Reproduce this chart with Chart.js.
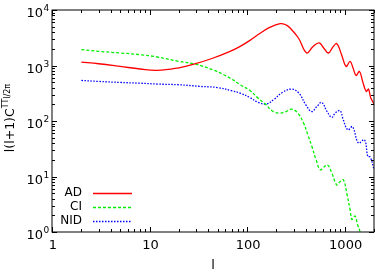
<!DOCTYPE html>
<html>
<head>
<meta charset="utf-8">
<script src="https://cdn.jsdelivr.net/npm/chart.js@4.4.1/dist/chart.umd.min.js"></script>
<style>
  html, body { margin: 0; padding: 0; background: #fff; }
  canvas { display: block; }
</style>
</head>
<body>
<canvas id="chart" width="375" height="278"></canvas>
<script>
// multipole values and spectra
const adEll = [2, 3, 5, 8, 12, 20, 29, 45, 67, 85, 107, 136, 170, 218, 250, 276, 336, 409, 470, 547, 610, 682, 760, 831, 930, 1036, 1138, 1220, 1312, 1419, 1530, 1663, 1757, 1850, 2000];
const adVal = [1150, 1075, 963, 865, 815, 910, 1065, 1365, 1800, 2213, 2840, 3800, 4850, 5680, 5400, 4750, 3130, 1680, 2160, 2550, 2070, 1680, 2160, 2475, 1567, 964, 1186, 900, 662, 783, 516, 341, 376, 263, 204];

const ciEll = [2, 3, 5, 8, 12, 20, 29, 45, 67, 85, 107, 130, 153, 185, 218, 250, 287, 330, 379, 420, 461, 510, 561, 610, 667, 740, 831, 900, 972, 1060, 1138, 1185, 1240, 1282, 1360, 1442, 1500];
const ciVal = [1930, 1800, 1680, 1567, 1422, 1186, 1065, 830, 594, 450, 355, 258, 204, 148, 139, 148, 164, 139, 92, 56, 35, 20, 13.2, 14.7, 16.2, 11.5, 7.05, 8.1, 8.7, 4.66, 2.5, 1.69, 1.85, 1.94, 1.34, 1.0, 0.75];

const nidEll = [2, 3, 5, 8, 12, 20, 33, 50, 70, 85, 107, 130, 159, 190, 230, 287, 340, 400, 461, 520, 583, 660, 739, 800, 899, 960, 1079, 1202, 1387, 1597, 1730, 1827, 2000];
const nidVal = [538, 517, 495, 480, 463, 450, 420, 400, 350, 317, 265, 216, 204, 248, 327, 376, 317, 196, 148, 183, 216, 148, 116, 139, 153, 110, 69, 79, 40, 46, 22.9, 22.5, 13.5];

const xTicks = [1, 10, 100, 1000];
const yTicks = [1, 10, 100, 1000, 10000];
const yTickExp = ['0', '1', '2', '3', '4'];

const FONT = '"DejaVu Sans", sans-serif';

function pts(ell, val) {
  return ell.map((l, i) => ({ x: l, y: val[i] }));
}

function tline(ctx, x1, y1, x2, y2) {
  ctx.beginPath();
  ctx.moveTo(x1, y1);
  ctx.lineTo(x2, y2);
  ctx.stroke();
}

// frame, inward ticks, labels and key drawn gnuplot-style
const gnuplotLook = {
  id: 'gnuplotLook',
  afterDraw(chart) {
    const { ctx, chartArea: a, scales: { x, y } } = chart;
    ctx.save();
    ctx.strokeStyle = '#000';
    ctx.lineWidth = 1;
    ctx.strokeRect(a.left, a.top, a.right - a.left, a.bottom - a.top);

    // x ticks (major + minor), bottom and top
    for (let d = 1; d <= 1000; d *= 10) {
      for (let m = 1; m <= 9; m++) {
        const v = d * m;
        if (v > x.max) break;
        const px = Math.round(x.getPixelForValue(v)) + 0.5;
        const len = m === 1 ? 5 : 3;
        tline(ctx, px, a.bottom, px, a.bottom - len);
        tline(ctx, px, a.top, px, a.top + len);
      }
    }
    // y ticks, left and right
    for (let d = 1; d <= 10000; d *= 10) {
      for (let m = 1; m <= 9; m++) {
        const v = d * m;
        if (v > y.max) break;
        const py = Math.round(y.getPixelForValue(v)) + 0.5;
        const len = m === 1 ? 5 : 3;
        tline(ctx, a.left, py, a.left + len, py);
        tline(ctx, a.right, py, a.right - len, py);
      }
    }

    ctx.fillStyle = '#000';
    // x tick labels
    ctx.font = '13px ' + FONT;
    ctx.textAlign = 'center';
    ctx.textBaseline = 'middle';
    xTicks.forEach(v => ctx.fillText(String(v), x.getPixelForValue(v) + 1, 246));

    // y tick labels: 10 with superscript exponent
    yTicks.forEach((v, i) => {
      const py = y.getPixelForValue(v);
      ctx.font = '13px ' + FONT;
      ctx.textAlign = 'right';
      ctx.fillText('10', 43, py + 4);
      ctx.font = '9px ' + FONT;
      ctx.textAlign = 'left';
      ctx.fillText(yTickExp[i], 43.5, py - 1);
    });

    // x axis title
    ctx.font = '13px ' + FONT;
    ctx.textAlign = 'center';
    ctx.fillText('l', 213, 266);

    // y axis title, rotated
    ctx.save();
    ctx.translate(11, 118);
    ctx.rotate(-Math.PI / 2);
    ctx.textAlign = 'left';
    const parts = [
      { t: 'l(l+1)C', f: '12.5px ', dy: 0 },
      { t: 'TT', f: '8px ', dy: -5 },
      { t: 'l/2\u03c0', f: '8px ', dy: -3 }
    ];
    let total = 0;
    parts.forEach(p => { ctx.font = p.f + FONT; p.w = ctx.measureText(p.t).width; total += p.w; });
    let cx = -total / 2;
    parts.forEach(p => {
      ctx.font = p.f + FONT;
      ctx.fillText(p.t, cx, p.dy);
      cx += p.w;
    });
    ctx.restore();

    // key
    const keyY = [193, 207, 221];
    chart.data.datasets.forEach((ds, i) => {
      ctx.font = '12px ' + FONT;
      ctx.textAlign = 'right';
      ctx.fillStyle = '#000';
      ctx.fillText(ds.label, 82, keyY[i]);
      ctx.strokeStyle = ds.borderColor;
      ctx.lineWidth = ds.borderWidth;
      ctx.setLineDash(ds.borderDash || []);
      tline(ctx, 93, keyY[i] + 0.5, 132, keyY[i] + 0.5);
    });
    ctx.restore();
  }
};

new Chart(document.getElementById('chart'), {
  type: 'line',
  data: {
    datasets: [
      { label: 'AD', data: pts(adEll, adVal), borderColor: '#ff0000', borderWidth: 1.3, borderDash: [] },
      { label: 'CI', data: pts(ciEll, ciVal), borderColor: '#00ee00', borderWidth: 1.3, borderDash: [3, 2] },
      { label: 'NID', data: pts(nidEll, nidVal), borderColor: '#0000ff', borderWidth: 1.3, borderDash: [1.5, 1.5] }
    ]
  },
  options: {
    responsive: false,
    animation: false,
    devicePixelRatio: 1,
    layout: { padding: { left: 52, right: 1, top: 10, bottom: 46 } },
    elements: {
      point: { radius: 0 },
      line: { tension: 0.4, fill: false }
    },
    plugins: { legend: { display: false }, tooltip: { enabled: false } },
    scales: {
      x: { type: 'logarithmic', min: 1, max: 2000, display: false },
      y: { type: 'logarithmic', min: 1, max: 10000, display: false }
    }
  },
  plugins: [gnuplotLook]
});
</script>
</body>
</html>
